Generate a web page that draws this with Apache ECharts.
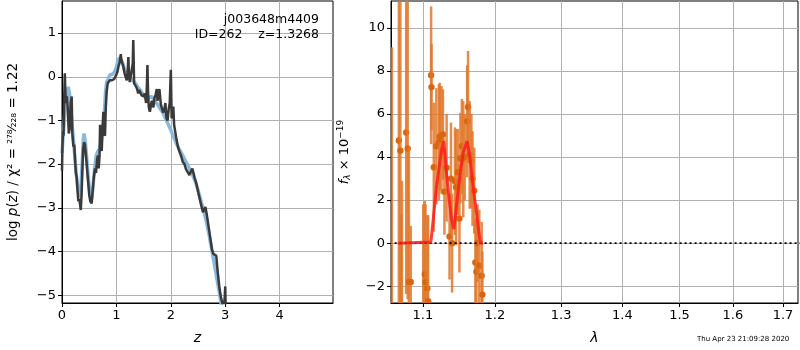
<!DOCTYPE html>
<html>
<head>
<meta charset="utf-8">
<script src="https://cdn.jsdelivr.net/npm/echarts@6/dist/echarts.min.js"></script>
<style>
  html, body { margin: 0; padding: 0; background: #fff; }
  #main { width: 800px; height: 350px; }
</style>
</head>
<body>
<div id="main"></div>
<script>
// left panel: log p(z)
const zDark = [0.0, 0.008, 0.018, 0.028, 0.04, 0.052, 0.062, 0.075, 0.09, 0.105, 0.125, 0.14, 0.16, 0.178, 0.19, 0.21, 0.225, 0.24, 0.255, 0.27, 0.285, 0.30, 0.315, 0.33, 0.345, 0.36, 0.375, 0.39, 0.405, 0.42, 0.44, 0.46, 0.48, 0.50, 0.52, 0.545, 0.565, 0.585, 0.605, 0.625, 0.645, 0.66, 0.675, 0.69, 0.70, 0.715, 0.73, 0.745, 0.76, 0.775, 0.79, 0.805, 0.82, 0.84, 0.86, 0.88, 0.90, 0.92, 0.94, 0.96, 0.98, 1.0, 1.02, 1.04, 1.06, 1.08, 1.09, 1.11, 1.13, 1.15, 1.17, 1.19, 1.205, 1.22, 1.23, 1.245, 1.26, 1.28, 1.30, 1.31, 1.325, 1.34, 1.36, 1.38, 1.40, 1.42, 1.44, 1.46, 1.48, 1.50, 1.52, 1.545, 1.56, 1.57, 1.58, 1.595, 1.615, 1.635, 1.65, 1.665, 1.68, 1.70, 1.72, 1.74, 1.755, 1.77, 1.79, 1.80, 1.815, 1.835, 1.86, 1.88, 1.90, 1.92, 1.94, 1.96, 1.98, 2.0, 2.015, 2.03, 2.045, 2.06, 2.08, 2.10, 2.13, 2.16, 2.19, 2.22, 2.25, 2.28, 2.31, 2.34, 2.37, 2.395, 2.41, 2.44, 2.47, 2.51, 2.55, 2.59, 2.61, 2.635, 2.66, 2.69, 2.72, 2.755, 2.78, 2.81, 2.835, 2.86, 2.89, 2.92, 2.95, 2.975, 2.99, 3.0, 3.01];
const pzDark = [-2.15, -1.6, -1.25, -1.35, -0.5, 0.08, -0.35, -0.6, -0.45, -0.7, -1.3, -1.2, -0.6, -0.45, -1.3, -1.6, -1.55, -1.9, -2.2, -2.3, -2.6, -2.85, -2.8, -2.9, -3.05, -2.7, -2.1, -1.65, -1.5, -1.55, -1.8, -2.1, -2.4, -2.7, -2.85, -2.9, -2.6, -2.3, -2.1, -2.2, -1.9, -1.8, -2.1, -1.8, -1.1, -1.5, -1.7, -1.2, -0.8, -1.3, -1.35, -0.7, -0.35, -0.15, -0.12, -0.08, -0.1, -0.08, -0.12, -0.05, -0.06, 0.05, 0.12, 0.25, 0.33, 0.52, 0.4, 0.3, 0.22, 0.08, 0.0, -0.08, 0.1, 0.45, 0.05, -0.12, -0.08, -0.12, 0.3, 0.84, -0.15, -0.15, -0.22, -0.28, -0.38, -0.3, -0.36, -0.42, -0.42, -0.45, -0.38, -0.6, -0.2, 0.27, -0.3, -0.7, -0.8, -0.65, -0.55, -0.62, -0.7, -0.48, -0.42, -0.28, -0.55, -0.58, -0.28, -0.25, -0.62, -0.72, -0.82, -0.75, -0.6, -0.95, -1.0, -0.75, -0.6, 0.16, -0.95, -0.9, -0.68, -1.1, -1.25, -1.4, -1.6, -1.72, -1.82, -1.95, -2.0, -2.12, -2.18, -2.25, -2.28, -2.1, -2.08, -2.32, -2.45, -2.68, -2.9, -3.1, -3.1, -2.98, -3.15, -3.4, -3.65, -3.95, -4.05, -4.07, -4.1, -4.45, -4.8, -5.05, -5.2, -5.3, -5.05, -4.8, -5.45];
const zBlue = [0, 0.03, 0.06, 0.09, 0.115, 0.14, 0.17, 0.20, 0.23, 0.26, 0.29, 0.32, 0.345, 0.37, 0.39, 0.405, 0.43, 0.46, 0.49, 0.52, 0.545, 0.57, 0.60, 0.63, 0.66, 0.69, 0.72, 0.75, 0.78, 0.80, 0.82, 0.85, 0.88, 0.92, 0.96, 1.0, 1.03, 1.06, 1.09, 1.12, 1.15, 1.18, 1.22, 1.26, 1.30, 1.35, 1.40, 1.45, 1.50, 1.55, 1.60, 1.65, 1.70, 1.75, 1.80, 1.85, 1.90, 1.95, 2.0, 2.05, 2.10, 2.15, 2.20, 2.25, 2.30, 2.35, 2.40, 2.45, 2.50, 2.55, 2.60, 2.65, 2.70, 2.75, 2.80, 2.85, 2.90, 2.95];
const pzBlue = [-1.75, -1.2, -0.7, -0.35, -0.23, -0.4, -0.85, -1.3, -1.75, -2.2, -2.55, -2.75, -2.6, -2.0, -1.45, -1.3, -1.5, -1.95, -2.4, -2.75, -2.8, -2.5, -2.1, -1.8, -1.7, -1.65, -1.5, -1.2, -0.8, -0.35, -0.12, -0.05, 0.05, 0.05, 0.1, 0.22, 0.38, 0.44, 0.42, 0.3, 0.15, 0.05, -0.02, -0.05, -0.08, -0.15, -0.25, -0.33, -0.42, -0.5, -0.48, -0.45, -0.55, -0.62, -0.72, -0.82, -0.95, -1.08, -1.22, -1.38, -1.52, -1.65, -1.76, -1.88, -2.0, -2.12, -2.25, -2.4, -2.6, -2.82, -3.05, -3.3, -3.6, -3.95, -4.3, -4.65, -5.0, -5.4];
const zTicks = [0, 1, 2, 3, 4];
const pzTicks = [-5, -4, -3, -2, -1, 0, 1];

// right panel: spectrum with error bars
const lamPts  = [1.0595, 1.0685, 1.0705, 1.0715, 1.0725, 1.078, 1.080, 1.0815, 1.084, 1.1005, 1.1025, 1.1035, 1.106, 1.107, 1.111, 1.1115, 1.1146, 1.118, 1.1215, 1.1226, 1.125, 1.127, 1.129, 1.132, 1.136, 1.138, 1.1395, 1.1435, 1.145, 1.1475, 1.1497, 1.151, 1.153, 1.155, 1.157, 1.1604, 1.1617, 1.164, 1.1664, 1.168, 1.1704, 1.172, 1.1735, 1.175, 1.1776, 1.181, 1.182];
const fluxPts = [-4.5, 4.77, 4.3, -4.0, -5.0, 5.14, 4.4, -1.8, -1.8, -3.5, -1.44, -1.8, -2.1, -2.7, 7.8, 7.25, 3.53, 4.5, 4.69, 4.95, 4.8, 5.05, 2.39, 3.5, 0.31, 3.0, 0.0, 2.88, 2.6, 3.3, 1.14, 3.95, 4.5, 3.9, 4.0, 5.66, 6.33, 4.1, 3.81, 3.0, 2.44, -0.9, -1.33, 0.0, -1.05, -1.51, -2.39];
const errPts  = [13.6, 8.0, 7.5, 5.3, 7.9, 7.5, 7.0, 6.3, 2.6, 5.3, 3.4, 3.6, 3.4, 4.0, 3.2, 2.0, 3.0, 2.7, 2.7, 2.5, 2.5, 2.1, 2.0, 2.5, 2.0, 2.6, 2.3, 2.5, 2.7, 2.0, 2.5, 2.1, 2.2, 2.7, 2.0, 2.6, 2.6, 2.5, 2.2, 2.2, 2.0, 2.0, 2.5, 1.8, 2.6, 2.5, 2.0];
const lamModel  = [1.0673, 1.1107, 1.1183, 1.1251, 1.1282, 1.1318, 1.1355, 1.1387, 1.1419, 1.1456, 1.1502, 1.1548, 1.1604, 1.1642, 1.1688, 1.1736, 1.1783, 1.1802, 1.1829];
const fluxModel = [0, 0.05, 2.65, 4.35, 4.74, 3.27, 2.04, 1.11, 0.65, 1.73, 3.12, 4.2, 4.74, 4.04, 2.65, 1.42, 0.19, 0, 0];
const lamTicks  = [1.1, 1.2, 1.3, 1.4, 1.5, 1.6, 1.7];
const fluxTicks = [-2, 0, 2, 4, 6, 8, 10];

const FONT = 'DejaVu Sans';
const minus = v => String(v).replace('-', '\u2212');

function axisBase(ticks, fmt) {
  return {
    axisLine: { show: true, onZero: false, lineStyle: { color: '#000', width: 1 } },
    axisTick: { show: true, inside: false, length: 4, customValues: ticks, lineStyle: { color: '#000' } },
    axisLabel: { customValues: ticks, color: '#000', fontSize: 13, fontFamily: FONT, margin: 6, formatter: fmt },
    splitLine: { show: true, lineStyle: { color: '#b0b0b0', width: 1 } }
  };
}

const chart = echarts.init(document.getElementById('main'));

const option = {
  animation: false,
  backgroundColor: '#fff',
  grid: [
    { left: 62, top: 1, width: 271, height: 303, show: true, borderColor: '#000', borderWidth: 1, backgroundColor: 'transparent' },
    { left: 391, top: 1, width: 407, height: 303, show: true, borderColor: '#000', borderWidth: 1, backgroundColor: 'transparent' }
  ],
  xAxis: [
    Object.assign(axisBase(zTicks, v => minus(v)), {
      type: 'value', gridIndex: 0, min: 0, max: 4.98,
      name: 'z', nameLocation: 'middle', nameGap: 28,
      nameTextStyle: { fontSize: 14, fontStyle: 'italic', fontFamily: FONT, color: '#000' }
    }),
    Object.assign(axisBase(lamTicks, v => (+v).toFixed(1)), {
      type: 'log', gridIndex: 1, min: 1.0584, max: 1.731, logBase: Math.E,
      name: 'λ', nameLocation: 'middle', nameGap: 28,
      nameTextStyle: { fontSize: 14, fontStyle: 'italic', fontFamily: FONT, color: '#000' }
    })
  ],
  yAxis: [
    Object.assign(axisBase(pzTicks, v => minus(v)), {
      type: 'value', gridIndex: 0, min: -5.18, max: 1.735,
      name: '{n|log }{i|p}{n|(}{i|z}{n|) / χ² = }{f|²⁷⁸⁄₂₂₈}{n| = 1.22}',
      nameLocation: 'middle', nameGap: 42, nameRotate: 90,
      nameTextStyle: {
        fontFamily: FONT, color: '#000',
        rich: {
          n: { fontSize: 13.5, fontFamily: FONT, color: '#000' },
          i: { fontSize: 13.5, fontFamily: FONT, fontStyle: 'italic', color: '#000' },
          f: { fontSize: 12, fontFamily: FONT, color: '#000' }
        }
      }
    }),
    Object.assign(axisBase(fluxTicks, v => minus(v)), {
      type: 'value', gridIndex: 1, min: -2.78, max: 11.25,
      name: '{i|f}{s|λ}{n| × 10}{p|−19}',
      nameLocation: 'middle', nameGap: 38, nameRotate: 90,
      nameTextStyle: {
        fontFamily: FONT, color: '#000',
        rich: {
          n: { fontSize: 13, fontFamily: FONT, color: '#000' },
          i: { fontSize: 13, fontFamily: FONT, fontStyle: 'italic', color: '#000' },
          s: { fontSize: 9, fontFamily: FONT, fontStyle: 'italic', color: '#000', padding: [6, 0, 0, 0] },
          p: { fontSize: 9, fontFamily: FONT, color: '#000', padding: [0, 0, 8, 0] }
        }
      }
    })
  ],
  series: [
    {
      type: 'line', xAxisIndex: 0, yAxisIndex: 0, showSymbol: false, clip: true,
      data: zBlue.map((z, i) => [z, pzBlue[i]]),
      lineStyle: { color: '#8ab9de', width: 3.5 }, z: 2
    },
    {
      type: 'line', xAxisIndex: 0, yAxisIndex: 0, showSymbol: false, clip: true,
      data: zDark.map((z, i) => [z, pzDark[i]]),
      lineStyle: { color: '#3a3a3a', width: 2.5 }, z: 3
    },
    {
      type: 'custom', xAxisIndex: 1, yAxisIndex: 1, clip: true, z: 2,
      data: lamPts.map((l, i) => [l, fluxPts[i], errPts[i]]),
      encode: { x: 0, y: 1 },
      renderItem: function (params, api) {
        const x = api.value(0), y = api.value(1), e = api.value(2);
        const p = api.coord([x, y]);
        const top = api.coord([x, y + e]);
        const bot = api.coord([x, y - e]);
        return {
          type: 'group',
          children: [
            { type: 'line', shape: { x1: p[0], y1: top[1], x2: p[0], y2: bot[1] },
              style: { stroke: '#e0782a', lineWidth: 2.5, opacity: 0.85 } },
            { type: 'circle', shape: { cx: p[0], cy: p[1], r: 3.2 },
              style: { fill: '#d9660f' } }
          ]
        };
      }
    },
    {
      type: 'line', xAxisIndex: 1, yAxisIndex: 1, showSymbol: false, clip: true, z: 4,
      data: [[1.063, 0], [1.75, 0]],
      lineStyle: { color: '#000', width: 1.6, type: [2, 3] }
    },
    {
      type: 'line', xAxisIndex: 1, yAxisIndex: 1, showSymbol: false, clip: true, z: 5,
      data: lamModel.map((l, i) => [l, fluxModel[i]]),
      lineStyle: { color: '#ff1a1a', width: 3, opacity: 0.85 }
    }
  ],
  graphic: [
    { type: 'text', z: 100, right: 800 - 319, top: 13, style: { text: 'j003648m4409', font: '12.5px "DejaVu Sans"', fill: '#000', textAlign: 'right' } },
    { type: 'text', z: 100, right: 800 - 319, top: 28, style: { text: 'ID=262    z=1.3268', font: '12.5px "DejaVu Sans"', fill: '#000', textAlign: 'right' } },
    { type: 'text', z: 100, left: 697, top: 336, style: { text: 'Thu Apr 23 21:09:28 2020', font: '7px "DejaVu Sans"', fill: '#000' } }
  ]
};

chart.setOption(option);
</script>
</body>
</html>
